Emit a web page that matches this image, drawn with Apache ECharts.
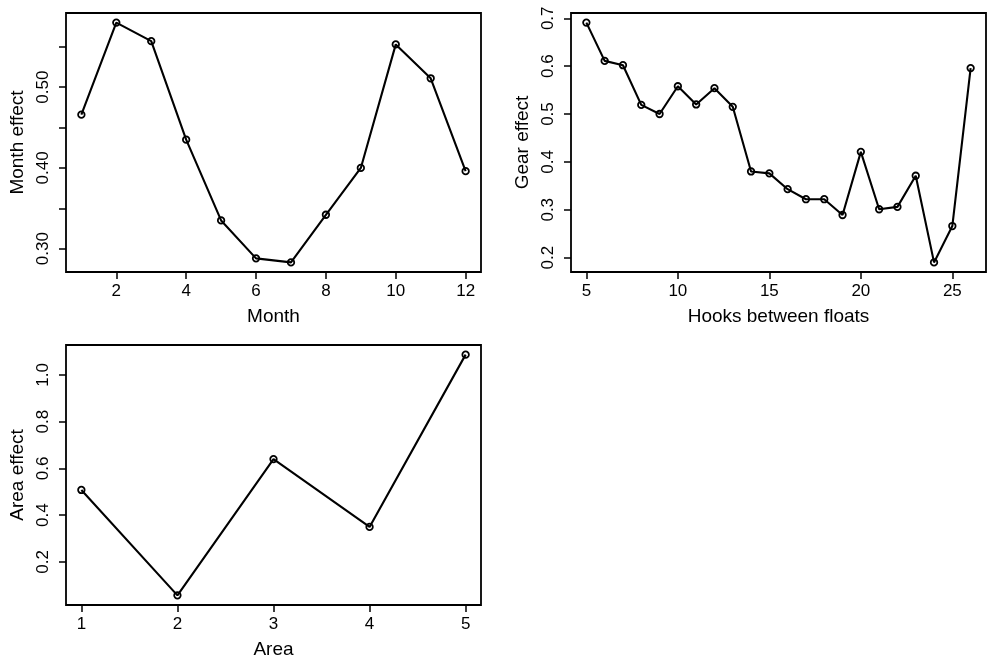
<!DOCTYPE html>
<html>
<head>
<meta charset="utf-8">
<script src="https://cdn.jsdelivr.net/npm/echarts@6/dist/echarts.min.js"></script>
<style>html,body{margin:0;padding:0;background:#fff}#c{width:992px;height:662px}</style>
</head>
<body>
<div id="c"></div>
<script>
// Panel 1: Month effect
var months = [1,2,3,4,5,6,7,8,9,10,11,12];
var monthEffect = [0.466,0.580,0.557,0.435,0.335,0.288,0.283,0.342,0.400,0.553,0.511,0.396];
var monthXTicks = [2,4,6,8,10,12];
var monthYTicks = [0.30,0.35,0.40,0.45,0.50,0.55];
var monthYLabels = [0.30,0.40,0.50];

// Panel 2: Gear effect
var hooks = [5,6,7,8,9,10,11,12,13,14,15,16,17,18,19,20,21,22,23,24,25,26];
var gearEffect = [0.691,0.611,0.602,0.519,0.500,0.558,0.520,0.554,0.515,0.380,0.376,0.343,0.322,0.322,0.289,0.421,0.301,0.306,0.371,0.190,0.266,0.596];
var gearXTicks = [5,10,15,20,25];
var gearYTicks = [0.2,0.3,0.4,0.5,0.6,0.7];

// Panel 3: Area effect
var areas = [1,2,3,4,5];
var areaEffect = [0.508,0.057,0.640,0.350,1.087];
var areaXTicks = [1,2,3,4,5];
var areaYTicks = [0.2,0.4,0.6,0.8,1.0];

function ext(arr){
  var mn = Math.min.apply(null, arr), mx = Math.max.apply(null, arr);
  var d = (mx - mn) * 0.04;
  return [mn - d, mx + d];
}
function pairs(xs, ys){ return xs.map(function(x,i){ return [x, ys[i]]; }); }

var FONT = 'Liberation Sans';
var FS = 17;
var NFS = 19;

function xAxis(gi, xs, ticks, name){
  var e = ext(xs);
  return {
    type:'value', gridIndex:gi, min:e[0], max:e[1],
    name:name, nameLocation:'middle', nameGap:35,
    nameTextStyle:{color:'#000', fontFamily:FONT, fontSize:NFS},
    axisLine:{show:false},
    splitLine:{show:false},
    axisTick:{show:true, inside:false, length:7, customValues:ticks, lineStyle:{color:'#000', width:1.5}},
    axisLabel:{show:true, customValues:ticks, margin:11, color:'#000', fontFamily:FONT, fontSize:FS, formatter:function(v){return String(v);}}
  };
}
function yAxis(gi, ys, ticks, labels, dec, name){
  var e = ext(ys);
  return {
    type:'value', gridIndex:gi, min:e[0], max:e[1],
    name:name, nameLocation:'middle', nameGap:39, nameRotate:90,
    nameTextStyle:{color:'#000', fontFamily:FONT, fontSize:NFS},
    axisLine:{show:false},
    splitLine:{show:false},
    axisTick:{show:true, inside:false, length:7, customValues:ticks, lineStyle:{color:'#000', width:1.5}},
    axisLabel:{show:true, customValues:labels, rotate:90, margin:14, color:'#000', fontFamily:FONT, fontSize:FS, formatter:function(v){return v.toFixed(dec);}}
  };
}
function series(gi, xs, ys){
  return {
    type:'line', xAxisIndex:gi, yAxisIndex:gi, data:pairs(xs, ys),
    symbol:'circle', symbolSize:6.5, showSymbol:true,
    lineStyle:{color:'#000', width:2.1},
    itemStyle:{color:'rgba(0,0,0,0)', borderColor:'#000', borderWidth:1.8},
    animation:false, clip:false
  };
}

var chart = echarts.init(document.getElementById('c'), null, {renderer:'canvas'});
var gridStyle = {show:true, borderColor:'#000', borderWidth:1.8, backgroundColor:'transparent', containLabel:false};
chart.setOption({
  animation:false,
  backgroundColor:'#fff',
  grid:[
    Object.assign({left:66, top:13, width:415, height:259}, gridStyle),
    Object.assign({left:571, top:13, width:415, height:259}, gridStyle),
    Object.assign({left:66, top:345, width:415, height:260}, gridStyle)
  ],
  xAxis:[
    xAxis(0, months, monthXTicks, 'Month'),
    xAxis(1, hooks, gearXTicks, 'Hooks between floats'),
    xAxis(2, areas, areaXTicks, 'Area')
  ],
  yAxis:[
    yAxis(0, monthEffect, monthYTicks, monthYLabels, 2, 'Month effect'),
    yAxis(1, gearEffect, gearYTicks, gearYTicks, 1, 'Gear effect'),
    yAxis(2, areaEffect, areaYTicks, areaYTicks, 1, 'Area effect')
  ],
  series:[
    series(0, months, monthEffect),
    series(1, hooks, gearEffect),
    series(2, areas, areaEffect)
  ]
});
</script>
</body>
</html>
